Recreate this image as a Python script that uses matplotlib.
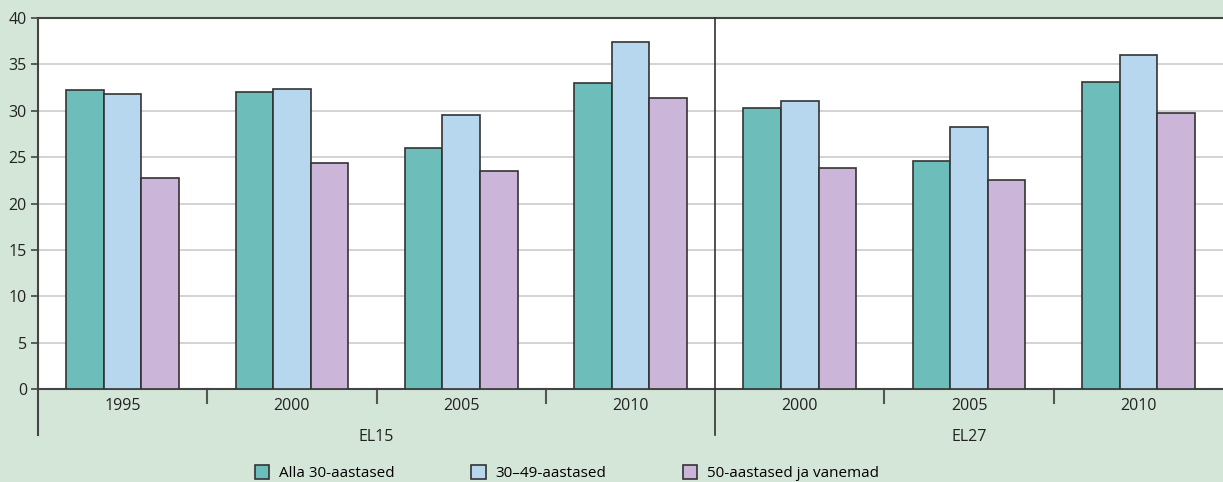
import matplotlib.pyplot as plt
import numpy as np

years = ["1995", "2000", "2005", "2010", "2000", "2005", "2010"]
regions = ["EL15", "EL27"]
region_sizes = [4, 3]
series_names = ["Alla 30-aastased", "30\u201349-aastased", "50-aastased ja vanemad"]
under_30 = [32.2, 32.0, 26.0, 33.0, 30.3, 24.6, 33.1]
age_30_49 = [31.8, 32.3, 29.5, 37.4, 31.0, 28.2, 36.0]
age_50_plus = [22.7, 24.4, 23.5, 31.4, 23.8, 22.5, 29.8]
y_ticks = [0, 5, 10, 15, 20, 25, 30, 35, 40]

colors = ["#6dbdbb", "#b7d7ef", "#cbb5d8"]
bg = "#d4e6d8"
edge = "#333333"

plt.rcParams["font.family"] = ["Open Sans", "DejaVu Sans"]

fig = plt.figure(figsize=(12.23, 4.82), dpi=100, facecolor=bg)
ax = fig.add_axes([38 / 1223, 1 - 389 / 482, 1 - 38 / 1223, (389 - 18) / 482])
ax.set_facecolor("white")

x = np.arange(len(years))
w = 0.222
for i, (vals, c, name) in enumerate(zip([under_30, age_30_49, age_50_plus], colors, series_names)):
    ax.bar(x + (i - 1) * w, vals, width=w, color=c, edgecolor=edge, linewidth=1.2, label=name, zorder=3)

ax.set_xlim(-0.5, len(years) - 0.5)
ax.set_ylim(0, 40)
ax.set_yticks(y_ticks)
ax.set_yticklabels([str(t) for t in y_ticks], fontsize=11.5, color="#222222")
ax.yaxis.grid(True, color="#cccccc", linewidth=1.2, zorder=0)
ax.tick_params(axis="y", length=5, width=1.2, color="#444444", pad=3)
ax.set_xticks([])

ax.spines["right"].set_visible(False)
for s in ["left", "top", "bottom"]:
    ax.spines[s].set_color("#444444")
    ax.spines[s].set_linewidth(1.5)

trans = ax.get_xaxis_transform()
low = -(435 - 389) / 371
tick_low = -(403 - 389) / 371

# year labels
for xi, yr in zip(x, years):
    ax.text(xi, -0.045, yr, transform=trans, ha="center", va="center", fontsize=11.5, color="#222222")

# separators between years and region labels
start = 0
for reg, n in zip(regions, region_sizes):
    for j in range(start, start + n - 1):
        ax.plot([j + 0.5, j + 0.5], [0, tick_low], transform=trans, color="#555555", lw=1.5, clip_on=False)
    ax.text(start + (n - 1) / 2, -0.13, reg, transform=trans, ha="center", va="center", fontsize=11.5, color="#222222")
    start += n

ax.plot([-0.5, -0.5], [0, low], transform=trans, color="#444444", lw=1.5, clip_on=False)
ax.plot([3.5, 3.5], [low, 1], transform=trans, color="#333333", lw=1.2, clip_on=False, zorder=5)

fig.legend(loc="lower left", bbox_to_anchor=(241 / 1223, -0.027), ncol=3, frameon=False,
           fontsize=11, handlelength=0.95, handleheight=0.95, handletextpad=0.65, columnspacing=5.0)

fig.savefig("out.png", dpi=100, facecolor=bg)
